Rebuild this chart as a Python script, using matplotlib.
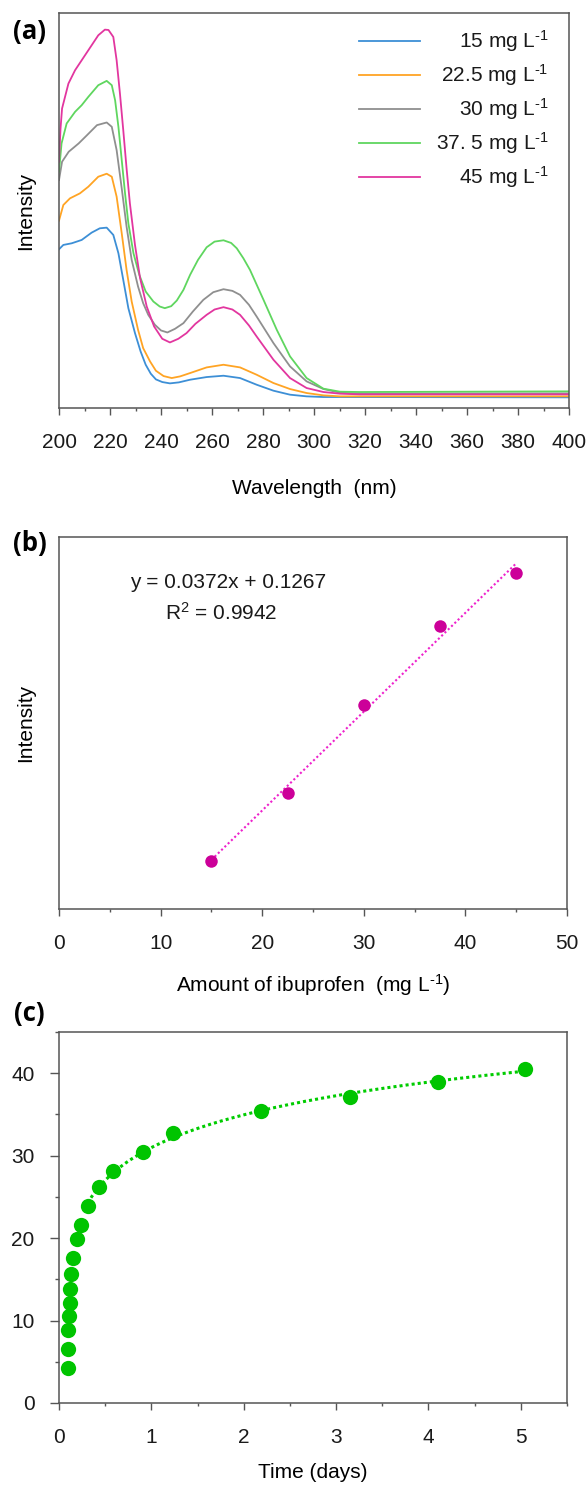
"""
三联图：(a) 不同浓度布洛芬的紫外吸收光谱  (b) 标准曲线  (c) 累积释放量随时间变化
"""
import numpy as np
import matplotlib
matplotlib.use('Agg')
import matplotlib.pyplot as plt
from matplotlib.ticker import MultipleLocator

plt.rcParams['font.family'] = ['Liberation Sans', 'DejaVu Sans']
plt.rcParams['mathtext.fontset'] = 'custom'
plt.rcParams['mathtext.rm'] = 'Liberation Sans'
plt.rcParams['mathtext.default'] = 'regular'

# ---------------- (a) 光谱数据 ----------------
# 各浓度的波长采样点 (nm) 与强度（任意单位）
wl_15 = [200, 201.7, 205, 208.9, 212.8, 216, 218.7, 221.3, 223.3, 225.2, 227.2, 229.8, 232,
         234, 236, 238, 240.5, 243.5, 247, 251.4, 257.9, 264.5, 271, 277.5, 284.1, 290.6,
         297.1, 303.7, 310, 400]
int_15 = [47.7, 49.0, 49.5, 50.5, 52.7, 54.0, 54.2, 52.0, 46.5, 38.5, 30.0, 22.5, 17.0, 13.0,
          10.3, 8.6, 7.8, 7.4, 7.7, 8.5, 9.3, 9.7, 9.0, 7.0, 5.2, 4.0, 3.5, 3.3, 3.3, 3.2]

wl_22 = [200, 201.7, 204.3, 208.2, 211.5, 215.4, 218.7, 220.7, 222.6, 224.6, 226.5, 228.5, 231,
         233, 235.7, 238, 241, 244.2, 247.5, 251.4, 257.9, 264.5, 271, 277.5, 284.1, 290.6,
         297.1, 303.7, 310.2, 400]
int_22 = [56.3, 61.0, 63.0, 64.5, 66.5, 69.5, 70.4, 69.5, 63.5, 52.5, 41.5, 32.0, 23.5, 18.0,
          14.0, 11.2, 9.6, 9.0, 9.5, 10.5, 12.2, 13.0, 12.2, 10.0, 7.5, 5.7, 4.5, 3.8, 3.5, 3.5]

wl_30 = [200, 201.2, 203.8, 207.7, 211, 214.9, 218.7, 220.7, 222.6, 224.6, 226.5, 228.5, 231,
         233, 235, 237.6, 240, 242.5, 245.5, 248.8, 252.5, 256.6, 260.5, 264.5, 268, 271,
         274.5, 277.5, 284.1, 290.6, 297.1, 303.7, 310.2, 318, 400]
int_30 = [68.5, 74.0, 77.0, 79.5, 82.0, 85.0, 85.8, 84.5, 77.5, 66.0, 54.5, 44.5, 36.5, 31.5,
          28.0, 25.0, 23.3, 22.7, 23.8, 25.5, 29.0, 32.5, 34.8, 35.7, 35.2, 34.0, 31.0, 27.5,
          19.5, 12.5, 8.0, 5.7, 4.6, 4.3, 4.4]

wl_37 = [200, 201, 203, 206.3, 208.9, 211.5, 215.4, 218.7, 220.7, 222, 223.3, 224.6, 225.9,
         227.2, 229.2, 231.5, 234, 237, 239.5, 241.5, 244, 246.2, 248.8, 251.4, 254.5, 257.9,
         261, 264.5, 267.5, 269.7, 272.3, 274.9, 280.2, 285.4, 290.6, 297.1, 303.7, 310.2,
         318, 400]
int_37 = [71.0, 79.5, 85.5, 89.0, 91.0, 93.5, 97.0, 98.3, 97.0, 92.5, 84.5, 74.5, 64.5, 55.5,
          46.5, 40.0, 35.0, 32.0, 30.5, 30.0, 30.6, 32.3, 35.5, 40.0, 44.5, 48.3, 50.0, 50.4,
          49.6, 48.0, 45.0, 41.5, 32.5, 23.5, 15.5, 9.0, 5.8, 4.9, 4.8, 5.0]

wl_45 = [200, 200.6, 201.2, 203.7, 206.3, 208.9, 211.5, 215.4, 218, 219.4, 221.3, 222.6, 223.9,
         225.2, 226.5, 227.8, 229.8, 231.8, 234.4, 237.3, 240.5, 243.5, 246.8, 250, 253.5,
         257.9, 261, 264.5, 268, 271, 274.5, 277.5, 284.1, 290.6, 297.1, 303.7, 310.2, 318, 400]
int_45 = [74.0, 84.0, 90.0, 97.5, 101.5, 104.5, 107.5, 112.0, 113.7, 113.6, 111.5, 104.5, 94.5,
          83.5, 72.0, 61.5, 49.0, 39.0, 30.5, 24.5, 20.8, 19.7, 20.8, 22.5, 25.3, 28.0, 29.6,
          30.3, 29.6, 28.0, 24.8, 21.5, 14.5, 9.0, 6.0, 4.8, 4.3, 4.1, 4.1]

spec_labels = ['15 mg L$^{\\text{-}1}$', '22.5 mg L$^{\\text{-}1}$', '30 mg L$^{\\text{-}1}$',
               '37. 5 mg L$^{\\text{-}1}$', '45 mg L$^{\\text{-}1}$']
spec_colors = ['#3d8fd6', '#ffa424', '#8f8f8f', '#5fd65f', '#e2369f']

# ---------------- (b) 标准曲线 ----------------
conc = [15, 22.5, 30, 37.5, 45]
intensity = [0.682, 0.936, 1.269, 1.564, 1.763]

# ---------------- (c) 释放曲线 ----------------
time_days = [0.10, 0.10, 0.10, 0.11, 0.115, 0.12, 0.13, 0.155, 0.19, 0.235, 0.31, 0.43,
             0.59, 0.905, 1.235, 2.19, 3.15, 4.10, 5.05]
release = [4.2, 6.6, 8.9, 10.6, 12.1, 13.8, 15.6, 17.6, 19.9, 21.6, 23.9, 26.2, 28.1,
           30.5, 32.7, 35.4, 37.1, 38.9, 40.5]

FS = 15
SPINE = '#555555'
W, H = 587, 1485


def frame(ax):
    # 外框与刻度样式
    for s in ax.spines.values():
        s.set_color(SPINE)
        s.set_linewidth(1.1)
    ax.tick_params(which='both', direction='out', colors=SPINE, labelcolor='#1a1a1a',
                   labelsize=FS, width=1.0)
    ax.tick_params(which='major', length=4.8, pad=13)
    ax.tick_params(which='minor', length=2.4)


def box(left, top, right, bottom):
    # 像素位置 -> figure 坐标
    return [left / W, 1 - bottom / H, (right - left) / W, (bottom - top) / H]


def panel_tag(text, x, y):
    fig.text(x / W, 1 - y / H, text, fontsize=18.5, fontweight='bold', family='Open Sans',
             va='center', ha='left')


fig = plt.figure(figsize=(W / 100, H / 100), dpi=100)

# ---- (a)
ax = fig.add_axes(box(59, 13, 569, 408))
series = [(wl_15, int_15), (wl_22, int_22), (wl_30, int_30), (wl_37, int_37), (wl_45, int_45)]
for (x, y), c in zip(series, spec_colors):
    ax.plot(x, y, color=c, lw=1.3, solid_joinstyle='round')
ax.set_xlim(200, 400)
ax.set_ylim(0, 118.7)
ax.set_yticks([])
ax.xaxis.set_major_locator(MultipleLocator(20))
ax.xaxis.set_minor_locator(MultipleLocator(10))
frame(ax)
ax.set_xlabel('Wavelength  (nm)', fontsize=FS, labelpad=20)
ax.set_ylabel('Intensity', fontsize=FS, labelpad=17)
# 图例（文字右对齐）
for i, (lab, c) in enumerate(zip(spec_labels, spec_colors)):
    yy = 0.929 - i * 0.086
    ax.plot([0.588, 0.708], [yy, yy], color=c, lw=1.3, transform=ax.transAxes)
    ax.text(0.96, yy, lab, transform=ax.transAxes, ha='right', va='center', fontsize=FS,
            color='#1a1a1a')
panel_tag('(a)', 13, 31)

# ---- (b)
ax = fig.add_axes(box(59, 537, 567, 909))
k, b = np.polyfit(conc, intensity, 1)
xs = np.array([min(conc), max(conc)])
ax.plot(xs, k * xs + b, ls=(0, (1, 1.2)), color='#ee22cc', lw=1.5)
ax.plot(conc, intensity, 'o', color='#cc0099', ms=9, mec='none')
ax.set_xlim(0, 50)
ax.set_ylim(0.5, 1.9)
ax.set_yticks([])
ax.xaxis.set_major_locator(MultipleLocator(10))
ax.xaxis.set_minor_locator(MultipleLocator(5))
frame(ax)
ax.set_xlabel('Amount of ibuprofen  (mg L$^{\\text{-}1}$)', fontsize=FS, labelpad=14)
ax.set_ylabel('Intensity', fontsize=FS, labelpad=17)
fig.text(130 / W, 1 - 582 / H, 'y = 0.0372x + 0.1267', fontsize=FS, va='center',
         color='#1a1a1a')
fig.text(165 / W, 1 - 613 / H, 'R$^2$ = 0.9942', fontsize=FS, va='center', color='#1a1a1a')
panel_tag('(b)', 13, 543)

# ---- (c)
ax = fig.add_axes(box(59, 1032, 567, 1403))
t = np.array(time_days)
r = np.array(release)
sel = t >= 0.3
a1, a0 = np.polyfit(np.log(t[sel]), r[sel], 1)
tt = np.linspace(t[sel].min(), t.max(), 200)
ax.plot(tt, a1 * np.log(tt) + a0, ls=(0, (1, 1)), color='#00cc00', lw=2.2)
ax.plot(t, r, 'o', color='#00c400', ms=11, mec='none')
ax.set_xlim(0, 5.5)
ax.set_ylim(0, 45)
ax.xaxis.set_major_locator(MultipleLocator(1))
ax.xaxis.set_minor_locator(MultipleLocator(0.5))
ax.yaxis.set_major_locator(MultipleLocator(10))
ax.yaxis.set_minor_locator(MultipleLocator(5))
frame(ax)
ax.tick_params(axis='y', which='major', length=6.2, pad=11.5)
ax.tick_params(axis='y', which='minor', length=3)
ax.set_xlabel('Time (days)', fontsize=FS, labelpad=12)
panel_tag('(c)', 14, 1013)

fig.savefig('out.png', dpi=100)
